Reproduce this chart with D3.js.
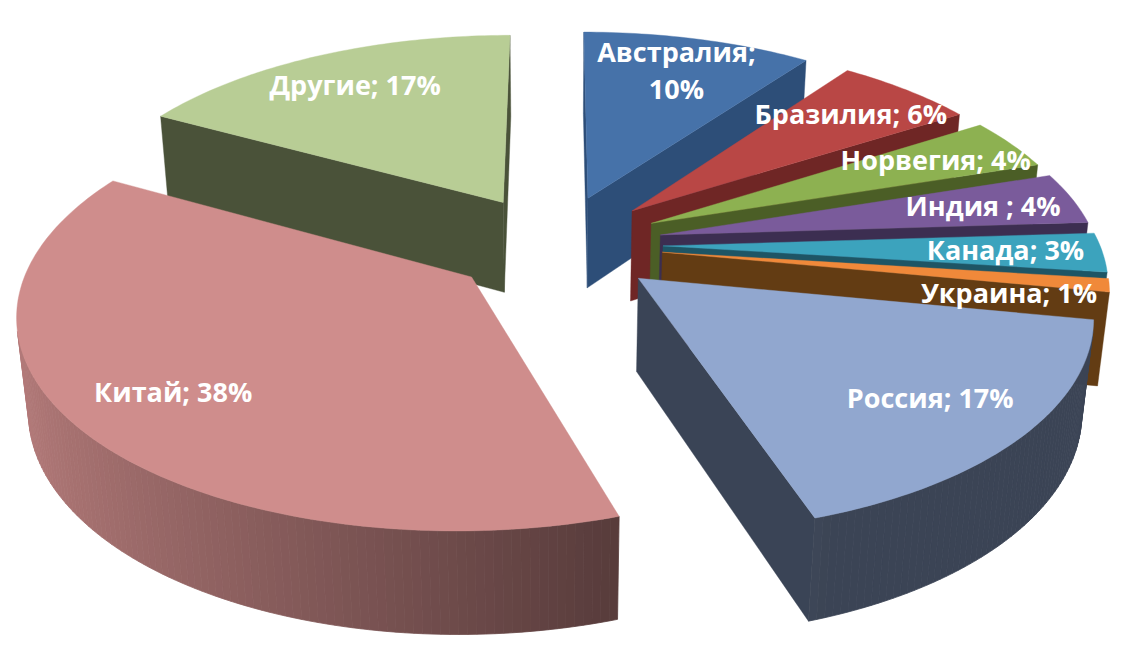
<!DOCTYPE html>
<html><head><meta charset="utf-8">
<script src="https://cdn.jsdelivr.net/npm/d3@7"></script>
<style>body{margin:0;background:#fff}svg{display:block}</style>
</head><body>
<svg id="chart" width="1138" height="658"></svg>
<script>
// ---- data ----
const categories = ["Австралия","Бразилия","Норвегия","Индия","Канада","Украина","Россия","Китай","Другие"];
const shares = [10,6,4,4,3,1,17,38,17];
const labelTexts = [["Австралия;","10%"],["Бразилия; 6%"],["Норвегия; 4%"],["Индия ; 4%"],["Канада; 3%"],["Украина; 1%"],["Россия; 17%"],["Китай; 38%"],["Другие; 17%"]];
// ---- styles ----
const topColors  = ["#4672a9","#b94745","#8db151","#7a5b9b","#3ca3bd","#f0893a","#91a7cf","#cf8d8c","#b8cd95"];
const faceColors = ["#2d4e78","#6f2625","#4b5e26","#3c2e51","#1e5565","#633c13","#3a4456","#5b3a3a","#4a5239"];

const W = 1138, H = 658;
const svg = d3.select("#chart");
svg.append("rect").attr("width", W).attr("height", H).attr("fill", "#fff");

// 3D perspective set-up (pie radius = 1 world unit)
const phi = 30 * Math.PI / 180, cphi = Math.cos(phi), sphi = Math.sin(phi);
const camD = 5.82, focal = 2488, thick = 0.2425, explode = 0.245, labelR = 0.78;
const cx = 556, cy = 336;
const cam = [0, -camD * cphi, camD * sphi];
const rScale = d3.scaleLinear().domain([0, 1]).range([0, 1]);

function proj(p) {
  const [u, v, h] = p;
  const w = camD + v * cphi - h * sphi;
  return [cx + focal * u / w, cy - focal * (v * sphi + h * cphi) / w];
}
function visible(n, p) {
  return n[0] * (cam[0] - p[0]) + n[1] * (cam[1] - p[1]) + n[2] * (cam[2] - p[2]) > 0;
}
function area2d(pts) { return Math.abs(d3.polygonArea(pts.map(proj))); }
const shade = a => Math.max(0.41, 0.527 - 0.344 * Math.sin(a));
function scaleColor(c, b) { const r = d3.rgb(c); return d3.rgb(r.r * b, r.g * b, r.b * b).formatHex(); }

const arcs = d3.pie().sort(null).value(d => d)(shares);
const line = d3.line();

const slices = arcs.map((d, i) => {
  const a0 = d.startAngle, a1 = d.endAngle, mid = (a0 + a1) / 2;
  const ex = explode * Math.sin(mid), ey = explode * Math.cos(mid);
  const pt = (r, a, h) => [ex + rScale(r) * Math.sin(a), ey + rScale(r) * Math.cos(a), h];
  const n = Math.max(6, Math.ceil((a1 - a0) / (Math.PI / 180)));
  const angs = d3.range(n + 1).map(k => a0 + (a1 - a0) * k / n);
  const faces = [];
  const sN = [-Math.cos(a0), Math.sin(a0), 0];
  const sPts = [pt(0, a0, thick), pt(1, a0, thick), pt(1, a0, 0), pt(0, a0, 0)];
  if (visible(sN, pt(0.5, a0, thick / 2)) && area2d(sPts) > 300)
    faces.push({pts: sPts, fill: faceColors[i]});
  const eN = [Math.cos(a1), -Math.sin(a1), 0];
  const ePts = [pt(0, a1, thick), pt(1, a1, thick), pt(1, a1, 0), pt(0, a1, 0)];
  if (visible(eN, pt(0.5, a1, thick / 2)) && area2d(ePts) > 300)
    faces.push({pts: ePts, fill: faceColors[i]});
  for (let k = 0; k < n; k++) {
    const am = (angs[k] + angs[k + 1]) / 2;
    const wn = [Math.sin(am), Math.cos(am), 0];
    if (visible(wn, pt(1, am, thick / 2)))
      faces.push({pts: [pt(1, angs[k], thick), pt(1, angs[k + 1], thick), pt(1, angs[k + 1], 0), pt(1, angs[k], 0)],
                  fill: scaleColor(topColors[i], shade(am)), wall: true});
  }
  faces.push({pts: [pt(0, 0, thick)].concat(angs.map(a => pt(1, a, thick))), fill: topColors[i], top: true});
  const c = pt(0.5, mid, 0);
  const depth = camD + c[1] * cphi;
  const lp = proj(pt(labelR, mid, thick));
  return {i, faces, depth, lp};
});

slices.sort((a, b) => b.depth - a.depth);

const g = svg.append("g");
slices.forEach(s => {
  const sg = g.append("g").attr("class", "slice");
  s.faces.forEach(f => {
    sg.append("path")
      .attr("d", line(f.pts.map(proj)) + "Z")
      .attr("fill", f.fill)
      .attr("stroke", f.fill)
      .attr("stroke-width", f.wall ? 0.8 : 0.4)
      .attr("stroke-linejoin", "round");
  });
});

// labels (placed in series order, pushed down if they collide with an earlier one)
const lg = svg.append("g");
const placed = [];
const fs = 27, lh = 37, gap = 10;
slices.slice().sort((a, b) => a.i - b.i).forEach(s => {
  const lines = labelTexts[s.i];
  const t = lg.append("text")
    .attr("text-anchor", "middle")
    .attr("font-family", "'Open Sans', 'DejaVu Sans', sans-serif")
    .attr("font-weight", "bold")
    .attr("font-size", fs)
    .attr("fill", "#fff");
  const tsp = lines.map(ln => t.append("tspan").attr("dy", "0.35em").text(ln));
  const setPos = y => tsp.forEach((ts, j) =>
    ts.attr("x", s.lp[0]).attr("y", y + (j - (lines.length - 1) / 2) * lh));
  const half = ((lines.length - 1) * lh + fs * 1.2) / 2;
  const box = y => { const b = t.node().getBBox();
    return {x0: b.x + 4, x1: b.x + b.width - 4, y0: y - half, y1: y + half}; };
  const hits = b => placed.some(p => b.x0 < p.x1 && b.x1 > p.x0 && b.y0 < p.y1 + gap && b.y1 + gap > p.y0);
  let y = s.lp[1];
  setPos(y);
  let guard = 0;
  while (hits(box(y)) && guard++ < 200) { y += 1; setPos(y); }
  placed.push(box(y));
});
</script>
</body></html>
